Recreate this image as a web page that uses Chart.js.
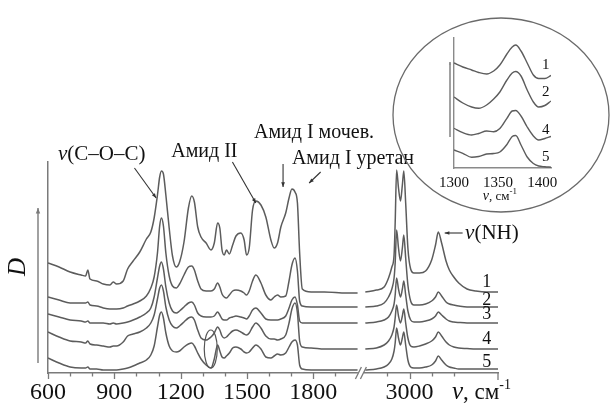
<!DOCTYPE html>
<html>
<head>
<meta charset="utf-8">
<script src="https://cdn.jsdelivr.net/npm/chart.js@4.4.1/dist/chart.umd.min.js"></script>
<style>
  html, body { margin: 0; padding: 0; background: #fff; }
  #wrap { position: relative; width: 612px; height: 407px; }
  #main { position: absolute; left: 0; top: 0; }
  #inset { position: absolute; left: 390px; top: 0; }
</style>
</head>
<body>
<div id="wrap">
  <canvas id="main" width="612" height="407"></canvas>
  <canvas id="inset" width="222" height="222"></canvas>
</div>
<script>
// wavenumber grids, cm-1
const waveLeft = [600, 650, 700, 750, 770, 780, 790, 820, 850, 880,
  895, 910, 940, 960, 985, 1015, 1045, 1065, 1080, 1095,
  1105, 1113, 1122, 1133, 1148, 1163, 1180, 1195, 1215, 1235,
  1250, 1262, 1277, 1292, 1315, 1337, 1352, 1367, 1377, 1387,
  1397, 1407, 1420, 1435, 1450, 1472, 1487, 1498, 1510, 1525,
  1540, 1563, 1585, 1608, 1623, 1638, 1653, 1675, 1690, 1703,
  1717, 1728, 1738, 1750, 1790, 1850, 1950, 2000];
const waveRight = [2600, 2700, 2770, 2810, 2840, 2860, 2870, 2883, 2900, 2918,
  2935, 2948, 2965, 2985, 3010, 3040, 3090, 3145, 3200, 3235,
  3260, 3290, 3330, 3360, 3400, 3445, 3520, 3600, 3700, 3800];

// D (offset spectra, arbitrary units)
const curve1Left = [110, 106, 101, 98, 97, 103, 94, 92, 89, 88,
  91, 89, 92, 104, 112, 121, 134, 141, 155, 178,
  196, 202, 199, 178, 145, 117, 106, 111, 131, 165,
  177, 171, 146, 136, 130, 123, 130, 150, 145, 123,
  118, 123, 119, 128, 137, 140, 133, 118, 125, 163,
  172, 168, 156, 133, 125, 130, 146, 160, 175, 184,
  181, 170, 120, 84, 81, 81, 80, 80];
const curve1Right = [81, 83, 86, 95, 106, 118, 150, 203, 185, 172,
  188, 202, 170, 125, 104, 100, 100, 102, 113, 128,
  141, 130, 112, 103, 96, 90, 84, 82, 81, 81];

const curve2Left = [76, 73, 70, 70, 70, 71, 68, 67, 65, 64,
  64, 64, 65, 67, 69, 72, 77, 85, 96, 120,
  147, 155, 147, 120, 97, 87, 85, 89, 98, 106,
  107, 103, 92, 84, 82, 82, 84, 90, 86, 79,
  76, 75, 78, 82, 83, 82, 80, 78, 82, 92,
  98, 90, 78, 73, 76, 78, 76, 77, 92, 108,
  115, 102, 72, 67, 66, 66, 66, 66];
const curve2Right = [66, 67, 70, 76, 84, 95, 110, 143, 125, 112,
  125, 138, 115, 88, 72, 68, 68, 69, 72, 76,
  81, 77, 71, 69, 68, 67, 66, 66, 66, 66];

const curve3Left = [59, 56, 53, 52, 51, 52, 50, 50, 50, 49,
  50, 49, 50, 51, 53, 56, 60, 65, 76, 95,
  107, 111, 104, 86, 70, 62, 60, 62, 66, 70,
  71, 68, 60, 57, 56, 56, 57, 61, 58, 54,
  53, 53, 55, 56, 57, 56, 55, 54, 57, 63,
  65, 60, 54, 53, 53, 53, 54, 57, 65, 73,
  76, 68, 52, 50, 50, 50, 50, 50];
const curve3Right = [50, 51, 53, 56, 62, 69, 78, 95, 84, 76,
  84, 92, 78, 62, 53, 51, 51, 52, 54, 57,
  61, 58, 54, 52, 51, 50.5, 50, 50, 50, 50];

const curve4Left = [41, 36, 32, 31, 30, 32, 29, 28, 27, 26,
  27, 27, 31, 37, 39, 41, 45, 50, 58, 74,
  85, 88, 82, 66, 53, 47, 45, 47, 51, 55,
  56, 53, 43, 35, 33, 36, 40, 46, 43, 37,
  35, 36, 39, 42, 43, 41, 39, 38, 40, 46,
  50, 45, 37, 34, 34, 33, 34, 38, 50, 64,
  70, 60, 32, 26, 25, 24, 24, 24];
const curve4Right = [24, 25, 28, 32, 38, 46, 55, 68, 57, 50,
  57, 64, 50, 35, 27, 26, 27, 29, 32, 36,
  41, 37, 31, 28, 26, 25, 24.5, 24, 24, 24];

const curve5Left = [15, 10, 6, 5, 5, 6, 4, 4, 3, 3,
  3, 3, 4, 5, 7, 10, 13, 18, 27, 46,
  58, 61, 55, 40, 27, 22, 21, 22, 26, 29,
  30, 27, 20, 14, 8, 5, 14, 28, 22, 16,
  15, 17, 20, 25, 26, 24, 21, 20, 21, 25,
  28, 24, 16, 15, 17, 19, 18, 20, 26, 31,
  33, 28, 8, 4, 3, 3, 3, 3];
const curve5Right = [3, 4, 6, 9, 14, 22, 30, 45, 35, 28,
  35, 41, 28, 13, 6, 5, 5, 6, 8, 12,
  17, 13, 8, 6, 5, 4, 4, 4, 4, 4];

const curveNames = ['1', '2', '3', '4', '5'];
const curveLabelY = [91, 73, 59, 34, 11];

// axis ticks (real wavenumbers)
const majorTicks = [600, 900, 1200, 1500, 1800, 3000];
const minorTicks = [700, 800, 1000, 1100, 1300, 1400, 1600, 1700, 1900, 2800, 3200, 3400];

// inset: 1300-1410 cm-1, curves 1, 2, 4, 5
const insetWave = [1300, 1310, 1320, 1328, 1337, 1345, 1352, 1360, 1366, 1370, 1376, 1383, 1390, 1396, 1403, 1410];
const inset1 = [105, 101, 98, 95.5, 94, 97, 103, 114, 121, 123, 117, 105, 93, 89.5, 89.5, 92.5];
const inset2 = [71, 65, 61, 59.7, 63, 69, 76, 88, 95, 96.5, 92, 78, 66, 61, 62.5, 67];
const inset4 = [39.7, 35.3, 33, 34.5, 37, 36.3, 39.5, 49.7, 57, 57.5, 52, 41, 32, 28, 29.5, 31.5];
const inset5 = [18, 14.7, 10.7, 11.5, 14, 14.5, 16, 23.5, 31.5, 32.5, 23, 11, 4.5, 2, 1.3, 0.8];
const insetNames = ['1', '2', '4', '5'];
const insetLabelY = [103, 76, 38, 11];
const insetTicks = [1300, 1350, 1400];

const SERIF = '"Liberation Serif", "DejaVu Serif", serif';
const LINE = '#5c5c5c';
const AXIS = '#7a7a7a';

// broken axis: 600-2000 keeps its scale, 2600-3800 is squeezed by 2
const BREAK_U = 2015;
function toU(w) {
  return w <= 2300 ? w : 2235 + (w - 3000) / 2;
}

function series(left, right) {
  const pts = waveLeft.map((w, i) => ({ x: toU(w), y: left[i] }));
  pts.push({ x: BREAK_U, y: null });
  waveRight.forEach((w, i) => pts.push({ x: toU(w), y: right[i] }));
  return pts;
}

function richText(ctx, parts, x, y, align) {
  let total = 0;
  parts.forEach(p => { ctx.font = p[1]; total += ctx.measureText(p[0]).width; });
  let cx = align === 'center' ? x - total / 2 : x;
  ctx.textAlign = 'left';
  parts.forEach(p => {
    ctx.font = p[1];
    ctx.fillText(p[0], cx, y + (p[2] || 0));
    cx += ctx.measureText(p[0]).width;
  });
}

function arrow(ctx, x1, y1, x2, y2, head) {
  ctx.beginPath();
  ctx.moveTo(x1, y1);
  ctx.lineTo(x2, y2);
  ctx.stroke();
  const ang = Math.atan2(y2 - y1, x2 - x1);
  ctx.beginPath();
  ctx.moveTo(x2, y2);
  ctx.lineTo(x2 - head * Math.cos(ang - 0.38), y2 - head * Math.sin(ang - 0.38));
  ctx.lineTo(x2 - head * Math.cos(ang + 0.38), y2 - head * Math.sin(ang + 0.38));
  ctx.closePath();
  ctx.fill();
}

// band annotations: text centre and arrow (wavenumber, D)
const annotations = [
  { parts: [['ν', 'italic 21px ' + SERIF], ['(C–O–C)', '21px ' + SERIF]], at: [843, 219], from: [991, 205], to: [1089, 175] },
  { parts: [['Амид II', '20px ' + SERIF]], at: [1307, 221], from: [1434, 211], to: [1540, 170] },
  { parts: [['Амид I мочев.', '20px ' + SERIF]], at: [1803, 240], from: [1663, 209], to: [1663, 186] },
  { parts: [['Амид I уретан', '20px ' + SERIF]], at: [1979, 214], from: [1833, 201], to: [1781, 190] },
  { parts: [['ν', 'italic 21px ' + SERIF], ['(NH)', '21px ' + SERIF]], at: [3745, 140], from: [3480, 140], to: [3318, 140] }
];

const mainDecor = {
  id: 'mainDecor',
  afterDraw(chart) {
    const { ctx, chartArea: a, scales: { x, y } } = chart;
    const X = w => x.getPixelForValue(toU(w));
    const Y = h => y.getPixelForValue(h);
    ctx.save();
    ctx.strokeStyle = AXIS;
    ctx.fillStyle = AXIS;
    ctx.lineWidth = 1.3;

    // tick marks
    majorTicks.concat(minorTicks).forEach(w => {
      const len = majorTicks.includes(w) ? 6 : 3.5;
      const px = Math.round(X(w)) + 0.5;
      ctx.beginPath();
      ctx.moveTo(px, a.bottom);
      ctx.lineTo(px, a.bottom + len);
      ctx.stroke();
    });
    ctx.beginPath();
    ctx.moveTo(a.right, a.bottom - 1);
    ctx.lineTo(a.right, a.bottom + 7);
    ctx.stroke();

    // axis break
    const bx = x.getPixelForValue(BREAK_U);
    ctx.fillStyle = '#fff';
    ctx.fillRect(bx - 3, a.bottom - 3, 6, 6);
    ctx.fillStyle = AXIS;
    [-3, 2].forEach(d => {
      ctx.beginPath();
      ctx.moveTo(bx + d - 2.5, a.bottom + 6);
      ctx.lineTo(bx + d + 3.5, a.bottom - 6);
      ctx.stroke();
    });

    // D arrow and label
    ctx.lineWidth = 1.4;
    arrow(ctx, a.left - 10, Y(10), a.left - 10, Y(165), 6);
    ctx.fillStyle = '#111';
    ctx.save();
    ctx.translate(a.left - 30, Y(106));
    ctx.rotate(-Math.PI / 2);
    ctx.textBaseline = 'middle';
    ctx.textAlign = 'center';
    ctx.font = 'italic 25px ' + SERIF;
    ctx.fillText('D', 0, 0);
    ctx.restore();

    // x axis title
    ctx.textBaseline = 'alphabetic';
    richText(ctx, [['ν', 'italic 25px ' + SERIF], [', см', '23px ' + SERIF], ['-1', '14px ' + SERIF, -10]],
      a.right - 46, a.bottom + 26, 'left');

    // curve numbers
    ctx.textBaseline = 'middle';
    ctx.font = '18px ' + SERIF;
    ctx.textAlign = 'center';
    curveNames.forEach((n, i) => ctx.fillText(n, X(3698), Y(curveLabelY[i])));

    // band labels and arrows
    ctx.strokeStyle = '#333';
    ctx.lineWidth = 1.1;
    annotations.forEach(an => {
      ctx.fillStyle = '#111';
      richText(ctx, an.parts, X(an.at[0]), Y(an.at[1]), 'center');
      ctx.fillStyle = '#333';
      arrow(ctx, X(an.from[0]), Y(an.from[1]), X(an.to[0]), Y(an.to[1]), 5);
    });

    // ellipse marking the 1300-1400 region
    ctx.strokeStyle = '#555';
    ctx.lineWidth = 1.2;
    ctx.beginPath();
    ctx.ellipse(X(1336), Y(24), 6.5, 19, 0, 0, Math.PI * 2);
    ctx.stroke();
    ctx.restore();
  }
};

const curves = [
  [curve1Left, curve1Right],
  [curve2Left, curve2Right],
  [curve3Left, curve3Right],
  [curve4Left, curve4Right],
  [curve5Left, curve5Right]
];

new Chart(document.getElementById('main'), {
  type: 'line',
  data: {
    datasets: curves.map((c, i) => ({
      label: curveNames[i],
      data: series(c[0], c[1]),
      borderColor: LINE,
      borderWidth: 1.5,
      pointRadius: 0,
      fill: false,
      spanGaps: false,
      cubicInterpolationMode: 'monotone'
    }))
  },
  options: {
    responsive: false,
    animation: false,
    devicePixelRatio: 1,
    layout: { padding: { top: 162, right: 114, left: 0, bottom: 0 } },
    plugins: { legend: { display: false }, tooltip: { enabled: false } },
    scales: {
      x: {
        type: 'linear',
        min: 600,
        max: 2635,
        afterFit(s) { s.height = 34; },
        afterBuildTicks(s) {
          s.ticks = majorTicks.map(w => ({ value: toU(w) }));
        },
        ticks: {
          autoSkip: false,
          maxRotation: 0,
          padding: -3,
          color: '#111',
          font: { family: SERIF, size: 24 },
          callback(v) {
            const w = majorTicks.find(t => toU(t) === v);
            return w === undefined ? '' : String(w);
          }
        },
        grid: { display: false },
        border: { color: AXIS, width: 1.5 }
      },
      y: {
        min: 0,
        max: 211,
        afterFit(s) { s.width = 48; },
        ticks: { display: false },
        grid: { display: false },
        border: { color: AXIS, width: 1.5 }
      }
    }
  },
  plugins: [mainDecor]
});

// inset
const insetDecor = {
  id: 'insetDecor',
  beforeDraw(chart) {
    const ctx = chart.ctx;
    ctx.save();
    ctx.strokeStyle = '#6a6a6a';
    ctx.lineWidth = 1.3;
    ctx.beginPath();
    ctx.ellipse(111, 115, 108, 97, 0, 0, Math.PI * 2);
    ctx.stroke();
    ctx.restore();
  },
  afterDraw(chart) {
    const { ctx, chartArea: a, scales: { x, y } } = chart;
    ctx.save();
    ctx.strokeStyle = '#8a8a8a';
    ctx.fillStyle = '#8a8a8a';
    ctx.lineWidth = 1.6;
    arrow(ctx, a.left - 4, y.getPixelForValue(31), a.left - 4, y.getPixelForValue(106), 3);
    ctx.fillStyle = '#111';
    ctx.textBaseline = 'middle';
    ctx.textAlign = 'center';
    ctx.font = '15px ' + SERIF;
    insetNames.forEach((n, i) => ctx.fillText(n, x.getPixelForValue(1404), y.getPixelForValue(insetLabelY[i])));
    ctx.textBaseline = 'alphabetic';
    richText(ctx, [['ν', 'italic 14px ' + SERIF], [', см', '13px ' + SERIF], ['-1', '9px ' + SERIF, -6]],
      x.getPixelForValue(1352), a.bottom + 32, 'center');
    ctx.restore();
  }
};

const insetSets = [inset1, inset2, inset4, inset5];

new Chart(document.getElementById('inset'), {
  type: 'line',
  data: {
    datasets: insetSets.map((s, i) => ({
      label: insetNames[i],
      data: insetWave.map((w, j) => ({ x: w, y: s[j] })),
      borderColor: LINE,
      borderWidth: 1.4,
      pointRadius: 0,
      fill: false,
      cubicInterpolationMode: 'monotone'
    }))
  },
  options: {
    responsive: false,
    animation: false,
    devicePixelRatio: 1,
    layout: { padding: { top: 38, right: 61, left: 0, bottom: 0 } },
    plugins: { legend: { display: false }, tooltip: { enabled: false } },
    scales: {
      x: {
        type: 'linear',
        min: 1300,
        max: 1410,
        afterFit(s) { s.height = 54; },
        afterBuildTicks(s) { s.ticks = insetTicks.map(v => ({ value: v })); },
        ticks: {
          autoSkip: false,
          maxRotation: 0,
          padding: -2,
          color: '#111',
          font: { family: SERIF, size: 15 },
          callback(v) { return String(v); }
        },
        grid: { display: false },
        border: { color: '#8a8a8a', width: 1.4 }
      },
      y: {
        min: 0,
        max: 130,
        afterFit(s) { s.width = 64; },
        ticks: { display: false },
        grid: { display: false },
        border: { color: '#8a8a8a', width: 1.4 }
      }
    }
  },
  plugins: [insetDecor]
});
</script>
</body>
</html>
